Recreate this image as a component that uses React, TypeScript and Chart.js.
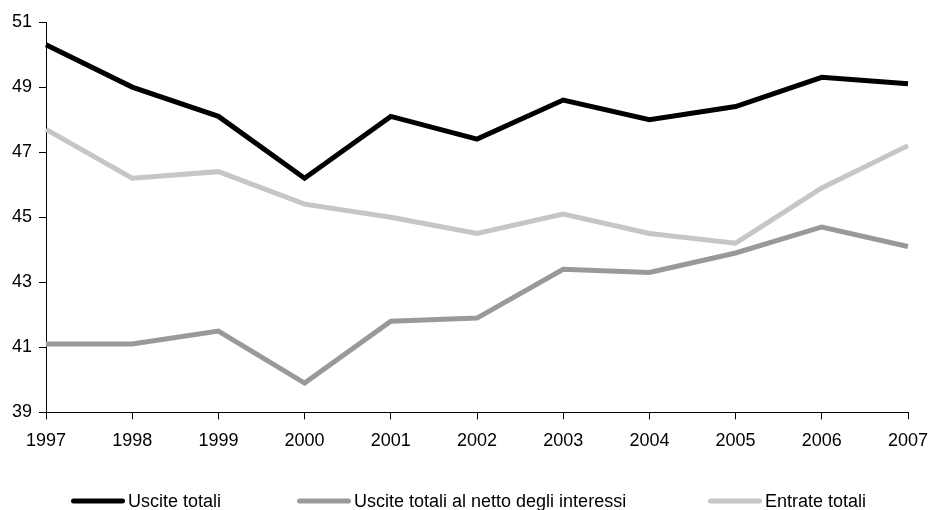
import React, { useEffect, useRef } from "react";
import { Chart, registerables } from "chart.js";

Chart.register(...registerables);

const years = ["1997", "1998", "1999", "2000", "2001", "2002", "2003", "2004", "2005", "2006", "2007"];
const usciteTotali = [50.3, 49.0, 48.1, 46.2, 48.1, 47.4, 48.6, 48.0, 48.4, 49.3, 49.1];
const usciteNetto = [41.1, 41.1, 41.5, 39.9, 41.8, 41.9, 43.4, 43.3, 43.9, 44.7, 44.1];
const entrateTotali = [47.7, 46.2, 46.4, 45.4, 45.0, 44.5, 45.1, 44.5, 44.2, 45.9, 47.2];
const seriesNames = ["Uscite totali", "Uscite totali al netto degli interessi", "Entrate totali"];
const seriesColors = ["#000000", "#999999", "#c6c6c6"];
const yTicks = { min: 39, max: 51, step: 2 };

const FONT = "'Liberation Sans', Arial, sans-serif";

// Legend drawn below the axis, Excel style: thick line sample followed by the text.
const legendPlugin = {
  id: "bottomLegend",
  afterDraw(chart: any) {
    const ctx = chart.ctx as CanvasRenderingContext2D;
    const starts = [71, 297, 708];
    const y = 501;
    const lineLen = 54;
    ctx.save();
    ctx.font = `18px ${FONT}`;
    ctx.textBaseline = "middle";
    ctx.textAlign = "left";
    chart.data.datasets.forEach((ds: any, i: number) => {
      const x = starts[i];
      ctx.strokeStyle = ds.borderColor;
      ctx.lineWidth = 5;
      ctx.lineCap = "round";
      ctx.beginPath();
      ctx.moveTo(x + 2.5, y);
      ctx.lineTo(x + lineLen - 2.5, y);
      ctx.stroke();
      ctx.fillStyle = "#000";
      ctx.fillText(ds.label, x + lineLen + 3, y + 1);
    });
    ctx.restore();
  },
};

export default function App() {
  const ref = useRef<HTMLCanvasElement | null>(null);
  useEffect(() => {
    document.body.style.margin = "0";
    if (!ref.current) return;
    const data = [usciteTotali, usciteNetto, entrateTotali];
    const chart = new Chart(ref.current, {
      type: "line",
      data: {
        labels: years,
        datasets: data.map((d, i) => ({
          label: seriesNames[i],
          data: d,
          borderColor: seriesColors[i],
          backgroundColor: seriesColors[i],
          borderWidth: 5,
          pointRadius: 0,
          tension: 0,
          fill: false,
        })),
      },
      plugins: [legendPlugin],
      options: {
        animation: false,
        responsive: false,
        maintainAspectRatio: false,
        layout: { padding: { left: 12, right: 0, top: 22, bottom: 47 } },
        plugins: {
          tooltip: { enabled: false },
          legend: { display: false },
        },
        scales: {
          x: {
            offset: false,
            afterFit: (scale: any) => {
              scale.paddingRight = 20;
            },
            grid: { drawOnChartArea: false, drawTicks: true, tickLength: 7, color: "#000" },
            border: { color: "#000", width: 1 },
            ticks: { color: "#000", font: { family: FONT, size: 18 }, maxRotation: 0, autoSkip: false, padding: 11 },
          },
          y: {
            min: yTicks.min,
            max: yTicks.max,
            afterFit: (scale: any) => {
              scale.width = 34;
            },
            grid: { drawOnChartArea: false, drawTicks: true, tickLength: 7, color: "#000" },
            border: { color: "#000", width: 1 },
            ticks: { stepSize: yTicks.step, color: "#000", font: { family: FONT, size: 18 }, padding: 7 },
          },
        },
      },
    });
    return () => chart.destroy();
  }, []);
  return (
    <div style={{ width: 928, height: 510 }}>
      <canvas ref={ref} width={928} height={510} style={{ width: 928, height: 510, display: "block" }} />
    </div>
  );
}
